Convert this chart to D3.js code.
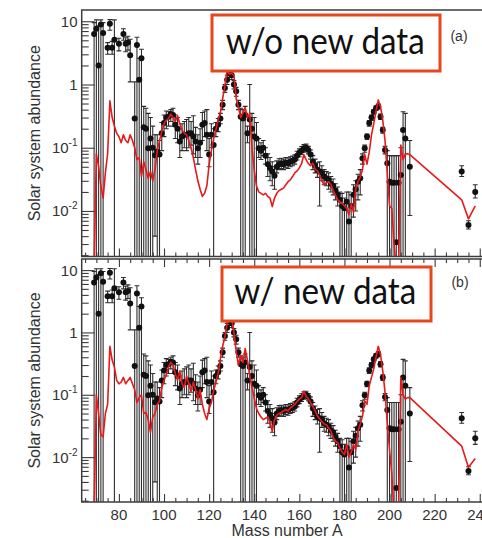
<!DOCTYPE html>
<html>
<head>
<meta charset="utf-8">
<script src="https://cdn.jsdelivr.net/npm/d3@7"></script>
<style>
  html, body { margin: 0; padding: 0; background: #ffffff; }
  svg { display: block; }
</style>
</head>
<body>
<svg id="chart" width="482" height="538"></svg>
<script>
// ---- Solar r-process residuals (mass number, abundance, error bar bounds) ----
const massNumbers = [
  69, 70, 71, 72, 73, 75, 76, 77, 78, 80, 82, 83, 84, 85, 87, 88, 89, 90, 91, 92,
  93, 94, 95, 96, 97, 98, 99, 100, 101, 102, 103, 104, 105, 106, 107, 108, 109, 110, 111, 112,
  113, 114, 115, 116, 117, 118, 119, 120, 121, 122, 123, 124, 125, 126, 127, 128, 129, 130, 131, 132,
  133, 134, 135, 136, 137, 138, 139, 140, 141, 142, 143, 144, 145, 146, 147, 148, 149, 150, 151, 152,
  153, 154, 155, 156, 157, 158, 159, 160, 161, 162, 163, 164, 165, 166, 167, 168, 169, 170, 171, 172,
  173, 174, 175, 176, 177, 178, 179, 180, 181, 182, 183, 184, 185, 186, 187, 188, 189, 190, 191, 192,
  193, 194, 195, 196, 197, 198, 199, 200, 201, 202, 203, 204, 205, 206, 207, 209, 232, 235, 238
];
const solarAbundance = [
  6.3, 7.6, 2.0, 8.9, 6.5, 3.8, 9.1, 3.8, 5.1, 4.4, 6.3, 4.4, 4.6, 2.9, 0.29, 4.2, 1.19, 2.6, 0.21, 0.20,
  0.098, 0.14, 0.10, 0.076, 0.087, 0.078, 0.17, 0.245, 0.30, 0.31, 0.34, 0.33, 0.23, 0.20, 0.126, 0.15, 0.16, 0.16, 0.17, 0.17,
  0.15, 0.126, 0.098, 0.12, 0.23, 0.245, 0.16, 0.078, 0.16, 0.11, 0.20, 0.23, 0.29, 0.48, 0.88, 1.19, 1.5, 1.4, 1.0, 0.78,
  0.48, 0.31, 0.29, 0.33, 0.17, 0.28, 0.20, 0.15, 0.14, 0.098, 0.09, 0.10, 0.075, 0.055, 0.048, 0.042, 0.036, 0.05, 0.055, 0.057,
  0.055, 0.058, 0.057, 0.06, 0.062, 0.065, 0.075, 0.083, 0.09, 0.098, 0.10, 0.092, 0.078, 0.06, 0.052, 0.045, 0.042, 0.04, 0.035, 0.033,
  0.031, 0.027, 0.025, 0.021, 0.018, 0.015, 0.012, 0.011, 0.014, 0.0068, 0.012, 0.018, 0.022, 0.029, 0.033, 0.068, 0.098, 0.15, 0.245, 0.30,
  0.37, 0.42, 0.45, 0.31, 0.19, 0.092, 0.057, 0.029, 0.028, 0.028, 0.0032, 0.028, 0.037, 0.19, 0.14, 0.05, 0.042, 0.006, 0.020
];
const errorLow = [
  1e-4, 1e-4, 1e-4, 1e-4, 1e-4, 3.0, 7.2, 3.0, 1e-4, 3.4, 5.0, 3.3, 3.5, 1.1, 1e-4, 1e-4, 1e-4, 1e-4, 1e-4, 1e-4,
  1e-4, 1e-4, 1e-4, 0.004, 1e-4, 1e-4, 0.09, 0.15, 0.2, 0.22, 0.26, 0.22, 0.14, 0.12, 0.07, 0.09, 0.10, 0.09, 0.10, 0.11,
  0.08, 0.07, 0.055, 0.07, 0.13, 0.15, 0.09, 0.05, 0.10, 1e-4, 0.15, 0.18, 0.24, 0.40, 0.75, 1.0, 1.3, 1.2, 0.85, 0.65,
  0.40, 1e-4, 1e-4, 1e-4, 0.12, 1e-4, 1e-4, 1e-4, 1e-4, 0.07, 0.065, 0.075, 0.055, 0.035, 0.03, 0.025, 0.022, 0.04, 0.045, 0.047,
  0.045, 0.048, 0.047, 0.05, 0.052, 0.055, 0.064, 0.072, 0.078, 0.085, 0.088, 0.08, 0.066, 0.045, 0.04, 0.034, 0.012, 0.03, 0.026, 0.025,
  0.022, 0.02, 0.018, 0.015, 0.012, 1e-4, 1e-4, 1e-4, 1e-4, 1e-4, 1e-4, 0.008, 0.01, 0.015, 0.018, 0.055, 0.085, 0.135, 0.22, 0.27,
  0.34, 0.39, 0.41, 0.28, 0.17, 0.08, 1e-4, 1e-4, 1e-4, 1e-4, 1e-4, 1e-4, 1e-4, 1e-4, 1e-4, 0.0085, 0.035, 0.0052, 0.016
];
const errorHigh = [
  9.5, 10.5, 8.5, 10.5, 9.5, 4.6, 10.6, 4.8, 10.5, 5.4, 7.6, 5.5, 5.8, 5.2, 1.1, 5.6, 2.6, 3.6, 0.45, 0.42,
  0.35, 0.30, 0.22, 0.16, 0.16, 0.13, 0.25, 0.33, 0.38, 0.37, 0.40, 0.42, 0.33, 0.30, 0.2, 0.24, 0.26, 0.28, 0.30, 0.26,
  0.32, 0.21, 0.16, 0.2, 0.36, 0.38, 0.4, 0.14, 0.24, 0.2, 0.25, 0.29, 0.35, 0.56, 1.0, 1.4, 1.7, 1.6, 1.15, 0.9,
  0.56, 0.42, 0.40, 0.45, 0.22, 1.0, 0.35, 0.3, 0.25, 0.14, 0.12, 0.13, 0.1, 0.08, 0.07, 0.06, 0.05, 0.062, 0.067, 0.068,
  0.066, 0.07, 0.069, 0.072, 0.074, 0.077, 0.088, 0.096, 0.104, 0.112, 0.114, 0.105, 0.092, 0.075, 0.066, 0.058, 0.06, 0.052, 0.045, 0.042,
  0.04, 0.035, 0.032, 0.027, 0.024, 0.02, 0.019, 0.016, 0.02, 0.02, 0.018, 0.026, 0.03, 0.038, 0.045, 0.08, 0.11, 0.165, 0.27, 0.33,
  0.40, 0.46, 0.49, 0.34, 0.21, 0.105, 0.09, 0.075, 0.075, 0.075, 0.075, 0.075, 0.1, 0.37, 0.35, 0.13, 0.052, 0.007, 0.026
];

// ---- Network calculation, one value per mass number ----
const modelMass = [
  69, 70, 71, 72, 73, 74, 75, 76, 77, 78, 79, 80, 81, 82, 83, 84, 85, 86, 87, 88,
  89, 90, 91, 92, 93, 94, 95, 96, 97, 98, 99, 100, 101, 102, 103, 104, 105, 106, 107, 108,
  109, 110, 111, 112, 113, 114, 115, 116, 117, 118, 119, 120, 121, 122, 123, 124, 125, 126, 127, 128,
  129, 130, 131, 132, 133, 134, 135, 136, 137, 138, 139, 140, 141, 142, 143, 144, 145, 146, 147, 148,
  149, 150, 151, 152, 153, 154, 155, 156, 157, 158, 159, 160, 161, 162, 163, 164, 165, 166, 167, 168,
  169, 170, 171, 172, 173, 174, 175, 176, 177, 178, 179, 180, 181, 182, 183, 184, 185, 186, 187, 188,
  189, 190, 191, 192, 193, 194, 195, 196, 197, 198, 199, 200, 201, 202, 203, 204, 205, 206, 207, 208,
  209, 232, 235, 238
];
// (a) calculation without the new data
const modelWithout = [
  0.0012, 0.08, 0.05, 0.025, 0.016, 0.04, 0.08, 0.55, 0.30, 0.22, 0.17, 0.15, 0.12, 0.16, 0.13, 0.12, 0.16, 0.13, 0.10, 0.065,
  0.07, 0.035, 0.06, 0.045, 0.033, 0.042, 0.03, 0.045, 0.09, 0.13, 0.18, 0.24, 0.27, 0.29, 0.34, 0.30, 0.26, 0.32, 0.24, 0.19,
  0.17, 0.16, 0.13, 0.10, 0.07, 0.045, 0.03, 0.022, 0.017, 0.019, 0.025, 0.054, 0.09, 0.14, 0.19, 0.28, 0.36, 0.6, 0.95, 1.7,
  1.45, 1.5, 1.4, 0.6, 0.43, 0.3, 0.36, 0.43, 0.3, 0.35, 0.1, 0.045, 0.025, 0.02, 0.019, 0.018, 0.019, 0.017, 0.016, 0.0117,
  0.016, 0.019, 0.021, 0.022, 0.023, 0.026, 0.029, 0.031, 0.035, 0.04, 0.043, 0.048, 0.056, 0.078, 0.065, 0.056, 0.052, 0.057, 0.046, 0.043,
  0.037, 0.03, 0.026, 0.028, 0.029, 0.026, 0.021, 0.018, 0.015, 0.014, 0.013, 0.012, 0.011, 0.0087, 0.013, 0.0095, 0.022, 0.029, 0.034, 0.045,
  0.078, 0.055, 0.085, 0.16, 0.24, 0.38, 0.57, 0.45, 0.27, 0.13, 0.04, 0.012, 0.011, 0.003, 0.0012, 0.0012, 0.11, 0.065, 0.08, 0.08,
  0.078, 0.015, 0.0075, 0.012
];
// (b) calculation with the new data
const modelWith = [
  0.0012, 0.10, 0.049, 0.023, 0.021, 0.05, 0.07, 0.60, 0.36, 0.28, 0.17, 0.15, 0.16, 0.19, 0.15, 0.17, 0.19, 0.15, 0.12, 0.075,
  0.09, 0.10, 0.05, 0.052, 0.04, 0.025, 0.044, 0.05, 0.07, 0.08, 0.13, 0.17, 0.21, 0.28, 0.33, 0.30, 0.22, 0.17, 0.24, 0.15,
  0.13, 0.2, 0.15, 0.115, 0.16, 0.12, 0.085, 0.12, 0.07, 0.05, 0.04, 0.06, 0.075, 0.115, 0.16, 0.22, 0.38, 0.6, 0.85, 1.45,
  1.5, 1.65, 1.0, 0.5, 0.3, 0.43, 0.33, 0.55, 0.36, 0.2, 0.13, 0.09, 0.06, 0.05, 0.044, 0.04, 0.042, 0.044, 0.036, 0.026,
  0.04, 0.047, 0.05, 0.052, 0.055, 0.058, 0.055, 0.062, 0.065, 0.07, 0.078, 0.085, 0.09, 0.115, 0.095, 0.086, 0.075, 0.065, 0.055, 0.046,
  0.041, 0.037, 0.034, 0.033, 0.029, 0.026, 0.021, 0.018, 0.017, 0.014, 0.012, 0.011, 0.016, 0.0099, 0.012, 0.016, 0.013, 0.026, 0.034, 0.045,
  0.08, 0.07, 0.14, 0.19, 0.26, 0.4, 0.6, 0.44, 0.24, 0.11, 0.035, 0.013, 0.0055, 0.0012, 0.0012, 0.0012, 0.19, 0.1, 0.085, 0.09,
  0.09, 0.015, 0.0069, 0.0095
];

// ---- Axis ticks and labels ----
const xTickValues = [80, 100, 120, 140, 160, 180, 200, 220, 240];
const yTickValues = [10, 1, 0.1, 0.01];
const yTickBase = ["10", "1", "10", "10"];
const yTickExponent = ["", "", "-1", "-2"];
const panelTags = ["(a)", "(b)"];
const boxLabels = ["w/o new data", "w/ new data"];
const yTitle = "Solar system abundance";
const xTitle = "Mass number A";

// ---- Layout ----
const svg = d3.select("#chart");
const axisColor = "#3c3c3c";
const textColor = "#333333";
const boxColor = "#e8471e";
const modelColor = "#e8191c";
const tickFont = "'Liberation Sans', Arial, Helvetica, sans-serif";

const x = d3.scaleLinear().domain([63.5, 250]).range([81.7, 502.3]);
const yDomain = [Math.pow(10, -2.72), Math.pow(10, 1.178)];

const panels = [
  { top: 10, bottom: 256.5, model: modelWithout, topTicks: false, xLabels: false,
    box: [212, 15, 228, 56], text: [225.7, 53.5, 199], tag: [459, 41] },
  { top: 259, bottom: 502, model: modelWith, topTicks: true, xLabels: true,
    box: [222, 267, 209, 54], text: [234.3, 304, 182], tag: [460, 287] }
];

const observations = massNumbers.map((a, k) => ({
  a, v: solarAbundance[k], lo: errorLow[k], hi: errorHigh[k]
}));

panels.forEach((p, i) => {
  const y = d3.scaleLog().domain(yDomain).range([p.bottom, p.top]);
  const g = svg.append("g").attr("class", "panel-" + i);

  const clipId = "plot-clip-" + i;
  svg.append("clipPath").attr("id", clipId)
    .append("rect")
    .attr("x", x.range()[0]).attr("y", p.top)
    .attr("width", x.range()[1] - x.range()[0])
    .attr("height", p.bottom - p.top);

  const plot = g.append("g").attr("clip-path", `url(#${clipId})`);

  // error bars
  plot.append("g").selectAll("line").data(observations).join("line")
    .attr("x1", d => x(d.a)).attr("x2", d => x(d.a))
    .attr("y1", d => y(d.lo)).attr("y2", d => y(d.hi))
    .attr("stroke", "#2e2e2e").attr("stroke-width", 1.1);

  // caps on both ends of each bar
  const caps = observations.flatMap(d => [{ a: d.a, v: d.hi }, { a: d.a, v: d.lo }]);
  plot.append("g").selectAll("line").data(caps).join("line")
    .attr("x1", d => x(d.a) - 2.4).attr("x2", d => x(d.a) + 2.4)
    .attr("y1", d => y(d.v)).attr("y2", d => y(d.v))
    .attr("stroke", "#2e2e2e").attr("stroke-width", 1.1);

  // data points
  plot.append("g").selectAll("circle").data(observations).join("circle")
    .attr("cx", d => x(d.a)).attr("cy", d => y(d.v))
    .attr("r", 3).attr("fill", "#111111");

  // calculated abundances
  const modelPoints = modelMass.map((a, k) => ({ a, v: p.model[k] }));
  plot.append("path").datum(modelPoints)
    .attr("d", d3.line().x(d => x(d.a)).y(d => y(d.v)))
    .attr("fill", "none").attr("stroke", modelColor)
    .attr("stroke-width", 1.6).attr("stroke-linejoin", "round");

  // frame
  g.append("rect")
    .attr("x", x.range()[0]).attr("y", p.top)
    .attr("width", x.range()[1] - x.range()[0])
    .attr("height", p.bottom - p.top)
    .attr("fill", "none").attr("stroke", axisColor).attr("stroke-width", 1.5);

  const styleAxis = sel => {
    sel.select(".domain").remove();
    sel.selectAll("line").attr("stroke", axisColor).attr("stroke-width", 1.1);
  };

  // y ticks (inward)
  const yMinor = y.ticks().filter(v => Math.abs(Math.log10(v) - Math.round(Math.log10(v))) > 1e-6);
  g.append("g").attr("transform", `translate(${x.range()[0]},0)`)
    .call(d3.axisLeft(y).tickValues(yTickValues).tickSize(-13).tickFormat(""))
    .call(styleAxis);
  g.append("g").attr("transform", `translate(${x.range()[0]},0)`)
    .call(d3.axisLeft(y).tickValues(yMinor).tickSize(-7).tickFormat(""))
    .call(styleAxis);

  // x ticks (inward)
  const xMinor = d3.range(65, 250, 5).filter(v => v % 20 !== 0);
  g.append("g").attr("transform", `translate(0,${p.bottom})`)
    .call(d3.axisBottom(x).tickValues(xTickValues).tickSize(-8).tickFormat(""))
    .call(styleAxis);
  g.append("g").attr("transform", `translate(0,${p.bottom})`)
    .call(d3.axisBottom(x).tickValues(xMinor).tickSize(-4).tickFormat(""))
    .call(styleAxis);
  if (p.topTicks) {
    g.append("g").attr("transform", `translate(0,${p.top})`)
      .call(d3.axisTop(x).tickValues(xTickValues).tickSize(-8).tickFormat(""))
      .call(styleAxis);
    g.append("g").attr("transform", `translate(0,${p.top})`)
      .call(d3.axisTop(x).tickValues(xMinor).tickSize(-4).tickFormat(""))
      .call(styleAxis);
  }

  // y tick labels with superscript exponents
  yTickValues.forEach((v, k) => {
    const t = g.append("text")
      .attr("x", 77.5).attr("y", y(v) + 5.5)
      .attr("text-anchor", "end")
      .attr("font-family", tickFont).attr("font-size", 15)
      .attr("fill", textColor)
      .text(yTickBase[k]);
    if (yTickExponent[k]) {
      t.append("tspan").attr("dy", -7).attr("font-size", 10).text(yTickExponent[k]);
    }
  });

  if (p.xLabels) {
    g.append("g").selectAll("text").data(xTickValues).join("text")
      .attr("x", d => x(d)).attr("y", 519.5)
      .attr("text-anchor", "middle")
      .attr("font-family", tickFont).attr("font-size", 15)
      .attr("fill", textColor)
      .text(d => d);
  }

  // y axis title
  g.append("text")
    .attr("transform", `translate(40,${(p.top + p.bottom) / 2}) rotate(-90)`)
    .attr("text-anchor", "middle")
    .attr("font-family", tickFont).attr("font-size", 16)
    .attr("fill", textColor)
    .text(yTitle);

  // panel tag
  g.append("text")
    .attr("x", p.tag[0]).attr("y", p.tag[1])
    .attr("text-anchor", "middle")
    .attr("font-family", tickFont).attr("font-size", 14)
    .attr("fill", textColor)
    .text(panelTags[i]);

  // boxed annotation
  g.append("rect")
    .attr("x", p.box[0]).attr("y", p.box[1])
    .attr("width", p.box[2]).attr("height", p.box[3])
    .attr("fill", "#ffffff").attr("stroke", boxColor).attr("stroke-width", 3);
  g.append("text")
    .attr("x", p.text[0]).attr("y", p.text[1])
    .attr("textLength", p.text[2]).attr("lengthAdjust", "spacingAndGlyphs")
    .attr("font-family", "Lato, 'Open Sans', sans-serif").attr("font-size", 37)
    .attr("fill", "#111111")
    .text(boxLabels[i]);
});

// x axis title
svg.append("text")
  .attr("x", 287).attr("y", 536)
  .attr("text-anchor", "middle")
  .attr("font-family", tickFont).attr("font-size", 16)
  .attr("fill", textColor)
  .text(xTitle);
</script>
</body>
</html>
